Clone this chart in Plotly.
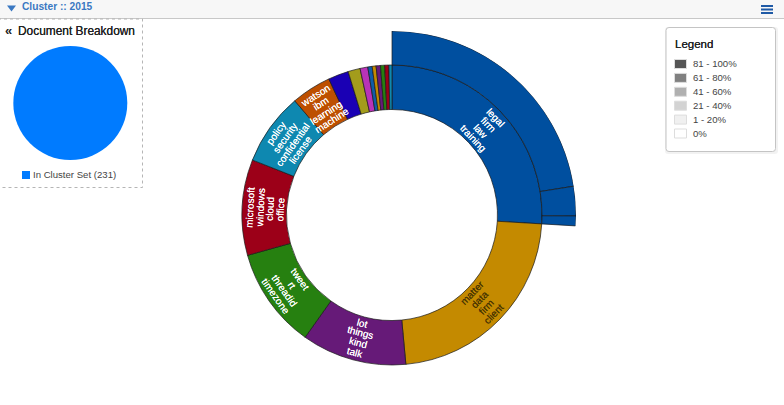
#!/usr/bin/env python3
"""Cluster breakdown: document pie plus a two level sunburst ring."""

import math
import plotly.graph_objects as go

W, H = 784, 405

# Inner ring, sizes in degrees clockwise from 12 o'clock
ring_sizes = [93.4, 81.3, 40.7, 39.0, 37.1, 28.1, 15.5, 7.9, 4.7, 3.0, 1.7, 1.5, 1.7, 1.6, 1.6, 1.2]
ring_colors = ["#004f9f", "#c48a00", "#661a78", "#268010", "#9c0018", "#0e88b0", "#bd4f00", "#1a00b4",
               "#a39c1c", "#b833b8", "#0f5ca8", "#c48a00", "#661a78", "#268010", "#9c0018", "#0e88b0"]
ring_labels = [
    ["legal", "firm", "law", "training"],
    ["matter", "data", "firm", "client"],
    ["lot", "things", "kind", "talk"],
    ["tweet", "rt", "threadid", "timezone"],
    ["microsoft", "windows", "cloud", "office"],
    ["policy", "security", "confidential", "license"],
    ["watson", "ibm", "learning", "machine"],
]
label_colors = ["#ffffff", "#4a3600", "#ffffff", "#ffffff", "#ffffff", "#ffffff", "#ffffff"]

# Outer ring only exists below the first cluster
outer_sizes = [81.0, 9.3, 3.1]
outer_color = "#004f9f"

pie_values = [231]
legend_labels = ["81 - 100%", "61 - 80%", "41 - 60%", "21 - 40%", "1 - 20%", "0%"]
legend_colors = ["#555555", "#808080", "#b0b0b0", "#d3d3d3", "#f0f0f0", "#ffffff"]

CX, CY = 392, 215
R_IN, R_MID, R_OUT = 105.5, 150, 184
FONT = "Liberation Sans, Arial, sans-serif"


def px(x):
    return x / W


def py(y):
    return 1 - y / H


def rect(x0, y0, x1, y1, fill, line="rgba(0,0,0,0)", width=1, dash="solid"):
    return dict(type="rect", xref="paper", yref="paper", x0=px(x0), y0=py(y0), x1=px(x1), y1=py(y1),
                fillcolor=fill, line=dict(color=line, width=width, dash=dash), layer="below")


def round_rect(x0, y0, x1, y1, r, fill, line="rgba(0,0,0,0)"):
    path = (f"M {px(x0 + r)} {py(y0)} L {px(x1 - r)} {py(y0)} Q {px(x1)} {py(y0)} {px(x1)} {py(y0 + r)} "
            f"L {px(x1)} {py(y1 - r)} Q {px(x1)} {py(y1)} {px(x1 - r)} {py(y1)} "
            f"L {px(x0 + r)} {py(y1)} Q {px(x0)} {py(y1)} {px(x0)} {py(y1 - r)} "
            f"L {px(x0)} {py(y0 + r)} Q {px(x0)} {py(y0)} {px(x0 + r)} {py(y0)} Z")
    return dict(type="path", xref="paper", yref="paper", path=path, fillcolor=fill,
                line=dict(color=line, width=1), layer="below")


def text(x, y, s, size=10, color="#333333", bold=False, anchor="left", angle=0, shadow="none"):
    return dict(xref="paper", yref="paper", x=px(x), y=py(y), text=f"<b>{s}</b>" if bold else s,
                showarrow=False, xanchor=anchor, yanchor="middle", textangle=angle,
                font=dict(family=FONT, size=size, color=color, shadow=shadow), borderpad=0, borderwidth=0)


def mids(sizes):
    out, start = [], 0
    for s in sizes:
        out.append(start + s / 2)
        start += s
    return out


fig = go.Figure()
fig.add_trace(go.Barpolar(theta=mids(ring_sizes), width=ring_sizes, r=[R_MID - R_IN] * len(ring_sizes),
                          base=R_IN, marker=dict(color=ring_colors, line=dict(color="#1a1a1a", width=0.7)),
                          hoverinfo="skip", showlegend=False))
fig.add_trace(go.Barpolar(theta=mids(outer_sizes), width=outer_sizes, r=[R_OUT - R_MID] * len(outer_sizes),
                          base=R_MID, marker=dict(color=outer_color, line=dict(color="#1a1a1a", width=0.7)),
                          hoverinfo="skip", showlegend=False))
fig.add_trace(go.Pie(values=pie_values, labels=["In Cluster Set"], marker=dict(colors=["#007bff"]),
                     textinfo="none", showlegend=False, sort=False,
                     domain=dict(x=[px(13.3), px(127.3)], y=[py(160), py(46)])))

shapes = [
    rect(0, 0, W, 18, "#f7f7f7"),
    rect(0, 18, W, 19, "#c8c8c8"),
    rect(-2, 19, 142.5, 187.5, "#ffffff", "#b5b5b5", 1, "3px,3px"),
    dict(type="path", xref="paper", yref="paper", layer="above", fillcolor="#3a78c2", line=dict(width=0),
         path=f"M {px(7)} {py(5.5)} L {px(16)} {py(5.5)} L {px(11.5)} {py(11.5)} Z"),
    rect(22, 171, 30, 179, "#007bff"),
    round_rect(665, 27, 778, 154, 3, "rgba(0,0,0,0.05)"),
    round_rect(666, 27.5, 775.5, 151.5, 3, "#ffffff", "#c4c4c4"),
]
for y in (5, 8.5, 12):
    shapes.append(rect(761, y, 773, y + 2, "#1f5aa6"))

annotations = [
    text(21.5, 7, "Cluster :: 2015", 10.2, "#3a78c2", True),
    text(5, 31, "«", 13, "#222222", True),
    text(18, 31, "Document Breakdown", 11.9, "#222222", shadow="0 0 0.5px #222222"),
    text(33, 175, "In Cluster Set (231)", 9.6, "#444444"),
    text(675, 44.5, "Legend", 11.5, "#222222", shadow="0 0 0.5px #222222"),
]

for i, (lab, col) in enumerate(zip(legend_labels, legend_colors)):
    y = 59.5 + i * 13.9
    shapes.append(rect(674.5, y, 686.5, y + 9, col, "#dddddd", 1))
    annotations.append(text(693, y + 4.5, lab, 9.6, "#444444"))

# Labels run along the arc, one word per line, centred in the band
for lab, col, mid in zip(ring_labels, label_colors, mids(ring_sizes)):
    if mid < 90:
        angle = mid
    elif mid < 270:
        angle = mid - 180
    else:
        angle = mid - 360
    a = math.radians(angle)
    cx = CX + 127 * math.sin(math.radians(mid))
    cy = CY - 127 * math.cos(math.radians(mid))
    for k, word in enumerate(lab):
        off = (k - (len(lab) - 1) / 2) * 10
        annotations.append(text(cx - off * math.sin(a), cy + off * math.cos(a), word, 10, col,
                                anchor="center", angle=angle, shadow=f"0 0 0.6px {col}"))

fig.update_layout(
    width=W, height=H, margin=dict(l=0, r=0, t=0, b=0), paper_bgcolor="#ffffff", plot_bgcolor="#ffffff",
    shapes=shapes, annotations=annotations, showlegend=False,
    polar=dict(
        domain=dict(x=[px(CX - R_OUT), px(CX + R_OUT)], y=[py(CY + R_OUT), py(CY - R_OUT)]),
        bgcolor="rgba(0,0,0,0)", barmode="overlay",
        radialaxis=dict(visible=False, range=[0, R_OUT]),
        angularaxis=dict(visible=False, direction="clockwise", rotation=90),
    ),
)

fig.write_html("out.html", post_script="document.body.style.margin='0';", config=dict(displayModeBar=False))
